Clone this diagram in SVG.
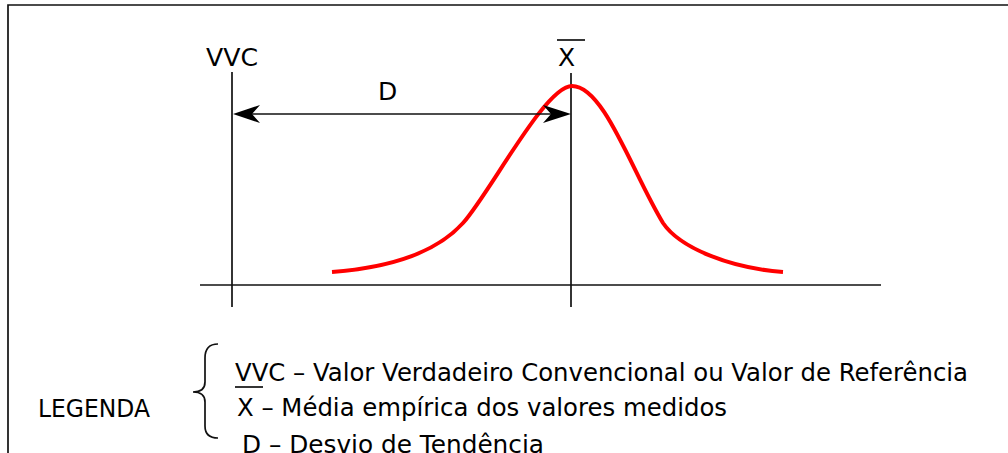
<svg xmlns="http://www.w3.org/2000/svg" width="1008" height="453" viewBox="0 0 1008 453">
<style>
.ln{stroke:#111;stroke-width:1.7;fill:none}
.t{font-family:"DejaVu Sans","Verdana",sans-serif;font-size:25px;fill:#000}
.curve{stroke:#f00;stroke-width:4;fill:none}
.ah{fill:#000}
</style>
<rect width="1008" height="453" fill="#fff"/>
<g id="frame">
<path class="ln" d="M8,453 L8,5 L1008,5" stroke-width="2"/>
</g>
<g id="axes">
<line class="ln" x1="200" y1="285" x2="881" y2="285"/>
<line class="ln" x1="232" y1="72" x2="232" y2="307"/>
<line class="ln" x1="571" y1="73" x2="571" y2="307"/>
</g>
<g id="curve">
<path class="curve" d="M332,272 C385,268 435,254 463,223 C490,193 545,86 572,86 C604,86 632,172 663,223 C680,248 730,268 783,272"/>
</g>
<g id="connectors">
<line class="ln" x1="240" y1="114" x2="564" y2="114"/>
<path class="ah" d="M233,114 L260,105 L252,114 L260,123 Z"/>
<path class="ah" d="M571,114 L543,105 L551,114 L543,123 Z"/>
</g>
<g id="label-vvc"><text class="t" x="206" y="66" textLength="52" lengthAdjust="spacingAndGlyphs">VVC</text></g>
<g id="label-xbar"><text class="t" x="558" y="66">X</text><line class="ln" x1="557" y1="40" x2="585" y2="40"/></g>
<g id="label-d"><text class="t" x="378" y="100">D</text></g>
<g id="legend">
<text class="t" x="38" y="417" textLength="112" lengthAdjust="spacingAndGlyphs">LEGENDA</text>
<path class="ln" d="M218,344 Q205,344 205,358 L205,382 Q205,392 193,392 Q205,392 205,402 L205,426 Q205,438 218,438"/>
<text class="t" x="235" y="381" textLength="733" lengthAdjust="spacingAndGlyphs">VVC – Valor Verdadeiro Convencional ou Valor de Referência</text>
<line class="ln" x1="235" y1="387" x2="263" y2="387"/>
<text class="t" x="237" y="416" textLength="490" lengthAdjust="spacingAndGlyphs">X – Média empírica dos valores medidos</text>
<text class="t" x="242" y="453" textLength="302" lengthAdjust="spacingAndGlyphs">D – Desvio de Tendência</text>
</g>
</svg>
